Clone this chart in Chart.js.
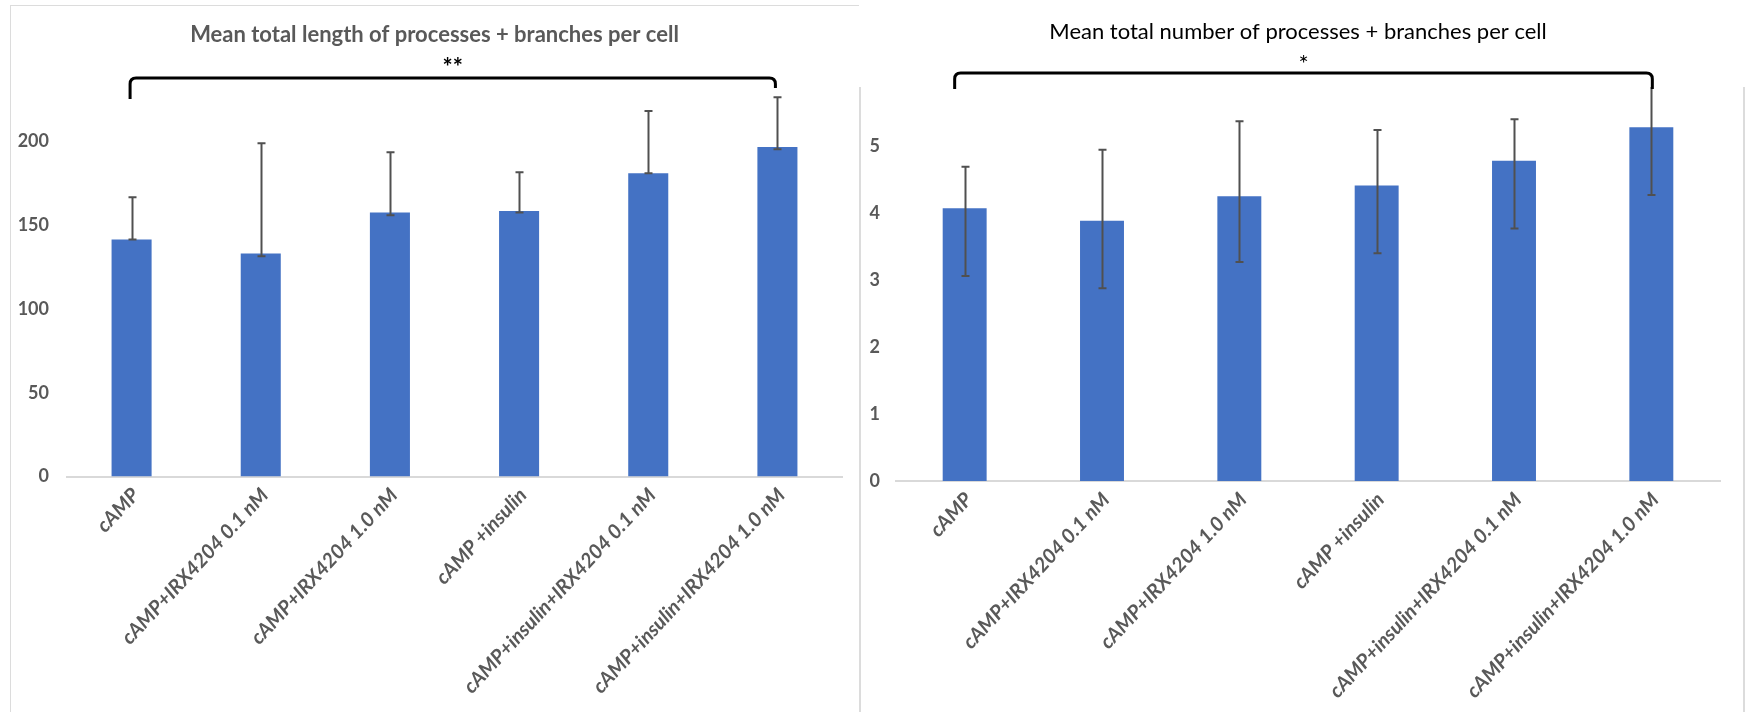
<!DOCTYPE html>
<html>
<head>
<meta charset="utf-8">
<script src="https://cdn.jsdelivr.net/npm/chart.js@4.4.1/dist/chart.umd.min.js"></script>
<style>
  html, body { margin: 0; padding: 0; background: #fff; }
  body { width: 1747px; height: 712px; position: relative; overflow: hidden; }
  .frame { position: absolute; background: #dcdcdc; }
  canvas { position: absolute; top: 0; }
</style>
</head>
<body>
<!-- panel outlines -->
<div class="frame" style="left:10px;top:5px;width:849px;height:1px"></div>
<div class="frame" style="left:10px;top:5px;width:1px;height:707px"></div>
<div class="frame" style="left:859px;top:87px;width:2px;height:625px"></div>
<div class="frame" style="left:1743px;top:87px;width:2px;height:625px"></div>

<canvas id="lengthChart" width="860" height="712" style="left:0"></canvas>
<canvas id="countChart" width="887" height="712" style="left:860px"></canvas>

<script>
const groups = [
    "cAMP",
    "cAMP+IRX4204 0.1 nM",
    "cAMP+IRX4204 1.0 nM",
    "cAMP +insulin",
    "cAMP+insulin+IRX4204 0.1 nM",
    "cAMP+insulin+IRX4204 1.0 nM",
];

// mean total length of processes + branches per cell
const lengthMeans = [141.4, 133.1, 157.5, 158.4, 180.9, 196.6];
const lengthErrUp = [25.2, 65.7, 35.9, 23.1, 37.2, 29.6];
const lengthErrDown = [0, 1.7, 1.6, 0.9, 0, 1.3];
const lengthTicks = [0, 50, 100, 150, 200];

// mean total number of processes + branches per cell
const countMeans = [4.07, 3.885, 4.25, 4.41, 4.78, 5.28];
const countErrUp = [0.62, 1.06, 1.12, 0.83, 0.62, 0.65];
const countErrDown = [1.01, 1.01, 0.98, 1.01, 1.01, 1.01];
const countTicks = [0, 1, 2, 3, 4, 5];

const barBlue = "#4472C4";
const axisGrey = "#595959";

// vertical error bars, clipped to the plot area
const errorBars = {
    id: "errorBars",
    afterDatasetsDraw(chart, args, opts) {
        const { ctx, chartArea } = chart;
        const y = chart.scales.y;
        const meta = chart.getDatasetMeta(0);
        ctx.save();
        ctx.beginPath();
        ctx.rect(chartArea.left, chartArea.top, chartArea.width, chartArea.height);
        ctx.clip();
        ctx.strokeStyle = opts.color;
        ctx.lineWidth = opts.width;
        chart.data.datasets[0].data.forEach(function(v, i) {
            const px = Math.round(meta.data[i].x) + 0.5;
            const hi = y.getPixelForValue(v + opts.up[i]);
            const lo = y.getPixelForValue(v - opts.down[i]);
            ctx.beginPath();
            ctx.moveTo(px, hi);
            ctx.lineTo(px, lo);
            ctx.moveTo(px - opts.cap, hi);
            ctx.lineTo(px + opts.cap, hi);
            ctx.moveTo(px - opts.cap, lo);
            ctx.lineTo(px + opts.cap, lo);
            ctx.stroke();
        });
        ctx.restore();
    },
};

// significance bracket between first and last group
const sigBracket = {
    id: "sigBracket",
    afterDraw(chart, args, opts) {
        const { ctx, chartArea } = chart;
        const x = chart.scales.x;
        const x0 = x.getPixelForValue(0) + opts.shiftStart;
        const x1 = x.getPixelForValue(groups.length - 1) + opts.shiftEnd;
        const top = chartArea.top + opts.rise;
        const r = 6;
        ctx.save();
        ctx.strokeStyle = "#000";
        ctx.lineWidth = 3;
        ctx.beginPath();
        ctx.moveTo(x0, chartArea.top + opts.leftLeg);
        ctx.lineTo(x0, top + r);
        ctx.quadraticCurveTo(x0, top, x0 + r, top);
        ctx.lineTo(x1 - r, top);
        ctx.quadraticCurveTo(x1, top, x1, top + r);
        ctx.lineTo(x1, chartArea.top + opts.rightLeg);
        ctx.stroke();
        ctx.font = opts.font;
        ctx.fillStyle = "#000";
        ctx.textAlign = "center";
        ctx.textBaseline = "alphabetic";
        ctx.fillText(opts.mark, (x0 + x1) / 2, top + opts.markRise);
        ctx.restore();
    },
};

// y tick labels may run into the left padding instead of being clipped
const labelRoom = {
    id: "labelRoom",
    afterLayout(chart) {
        chart.scales.y.left = 0;
    },
};

function makeBarChart(id, s) {
    return new Chart(document.getElementById(id), {
        type: "bar",
        data: {
            labels: groups,
            datasets: [{
                data: s.values,
                backgroundColor: barBlue,
                borderWidth: 0,
                categoryPercentage: 1,
                barPercentage: s.barPct,
            }],
        },
        options: {
            responsive: false,
            animation: false,
            layout: { padding: { left: s.padLeft, right: s.padRight, top: 0, bottom: 0 } },
            scales: {
                x: {
                    grid: { display: false, drawTicks: false },
                    border: { display: true, color: "#d9d9d9", width: 2 },
                    ticks: {
                        color: axisGrey,
                        font: { size: 20, weight: "bold", style: "italic" },
                        minRotation: 47,
                        maxRotation: 47,
                        autoSkip: false,
                        padding: 7,
                        labelOffset: 4,
                    },
                    afterFit: function(scale) {
                        scale.height = s.xHeight;
                    },
                },
                y: {
                    min: 0,
                    max: s.max,
                    grid: { display: false, drawTicks: false },
                    border: { display: false },
                    ticks: {
                        color: axisGrey,
                        font: { size: 18, weight: "bold" },
                        padding: s.tickPad,
                    },
                    afterBuildTicks: function(scale) {
                        scale.ticks = s.ticks.map((v) => ({ value: v }));
                    },
                    afterFit: function(scale) {
                        scale.width = s.yWidth;
                    },
                },
            },
            plugins: {
                legend: { display: false },
                tooltip: { enabled: false },
                title: {
                    display: true,
                    text: s.title,
                    color: s.titleColor,
                    font: { size: 22, weight: s.titleWeight, lineHeight: 1.2 },
                    padding: { top: s.titleTop, bottom: s.titleBottom },
                },
                errorBars: {
                    up: s.errUp,
                    down: s.errDown,
                    color: "#505050",
                    width: 2,
                    cap: 4,
                },
                sigBracket: s.bracket,
            },
        },
        plugins: [errorBars, sigBracket, labelRoom],
    });
}

Chart.defaults.font.family = "Lato";

Promise.all([
    document.fonts.load("bold 18px Lato"),
    document.fonts.load("italic bold 20px Lato"),
    document.fonts.load("22px Lato"),
]).catch(() => null).then(function() {
    makeBarChart("lengthChart", {
        values: lengthMeans,
        errUp: lengthErrUp,
        errDown: lengthErrDown,
        ticks: lengthTicks,
        max: 230,
        barPct: 0.31,
        padLeft: 27,
        padRight: 18,
        yWidth: 40,
        tickPad: 18,
        xHeight: 235.5,
        title: "Mean total length of processes + branches per cell",
        titleColor: axisGrey,
        titleWeight: "bold",
        titleTop: 22,
        titleBottom: 42.6,
        bracket: {
            mark: "**",
            font: "bold 24px Lato",
            rise: -13,
            leftLeg: 8,
            rightLeg: -3,
            markRise: -2,
            shiftStart: -1.5,
            shiftEnd: -2,
        },
    });

    makeBarChart("countChart", {
        values: countMeans,
        errUp: countErrUp,
        errDown: countErrDown,
        ticks: countTicks,
        max: 5.88,
        barPct: 0.32,
        padLeft: 16,
        padRight: 27,
        yWidth: 20,
        tickPad: 16,
        xHeight: 231,
        title: "Mean total number of processes + branches per cell",
        titleColor: "#000",
        titleWeight: "normal",
        titleTop: 19,
        titleBottom: 41.6,
        bracket: {
            mark: "*",
            font: "24px Lato",
            rise: -14,
            leftLeg: 2,
            rightLeg: 2,
            markRise: -1,
            shiftStart: -10,
            shiftEnd: 1,
        },
    });
});
</script>
</body>
</html>
